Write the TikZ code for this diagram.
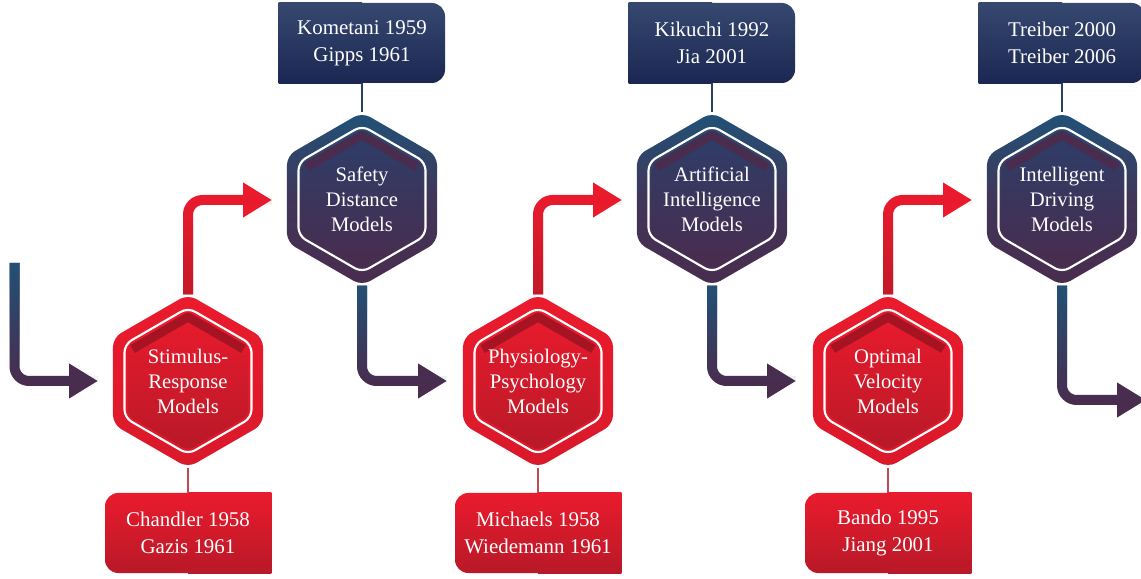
\documentclass[tikz,border=0pt]{standalone}
\usepackage{fontspec}
\setmainfont{Liberation Serif}
\usetikzlibrary{shapes.geometric,arrows.meta,fadings,backgrounds}

\definecolor{ringred}{RGB}{234,27,45}
\definecolor{corered}{RGB}{184,25,40}
\definecolor{bandred}{RGB}{166,20,36}
\definecolor{ringblue}{RGB}{33,82,120}
\definecolor{ringplum}{RGB}{74,44,78}
\definecolor{coreblue}{RGB}{44,62,106}
\definecolor{boxslate}{RGB}{54,72,112}
\definecolor{boxnavy}{RGB}{27,39,82}
\definecolor{linkred}{RGB}{196,72,82}
\definecolor{linknavy}{RGB}{44,64,100}

\begin{document}
\begin{tikzpicture}[x=0.75pt,y=0.75pt,
    hex/.style={regular polygon,regular polygon sides=6,shape border rotate=30,inner sep=0pt,outer sep=0pt},
    redhex/.style={hex,minimum size=130pt,rounded corners=7pt,top color=ringred,bottom color=ringred!93!black},
    redcore/.style={hex,minimum size=104pt,rounded corners=5pt,top color=ringred,bottom color=corered},
    redband/.style={draw=bandred,line width=6.75pt,line join=round},
    darkhex/.style={hex,minimum size=130pt,rounded corners=7pt,top color=ringblue,bottom color=ringplum,middle color=ringplum!75!ringblue},
    darkcore/.style={hex,minimum size=104pt,rounded corners=5pt,top color=coreblue,bottom color=ringplum},
    darkband/.style={draw=ringplum,line width=6.75pt,line join=round},
    hexline/.style={hex,minimum size=110pt,rounded corners=6pt,draw=white,line width=1.6pt},
    hextext/.style={text=white,align=center,inner sep=0pt,font=\fontsize{15.5}{18.75}\selectfont},
    refbox/.style={rectangle,minimum width=124.5pt,minimum height=60pt,rounded corners=10pt,text=white,align=center,font=\fontsize{15.7}{20.25}\selectfont},
    redref/.style={refbox,top color=ringred,bottom color=corered},
    darkref/.style={refbox,top color=boxslate,bottom color=boxnavy},
    link/.style={line width=1.1pt},
    flow/.style={line width=7.5pt,rounded corners=11pt,-{Triangle[length=21.75pt,width=24.75pt]}},
    flowfade/.style={line width=7.5pt,rounded corners=11pt,draw=ringblue,path fading=south},
    redfade/.style={line width=7.5pt,rounded corners=11pt,draw=corered!80!ringred,path fading=north}]
    \useasboundingbox (0,0) rectangle (1141,578);

    % free ends of the arrows
    \coordinate (In) at (14.5,315);
    \coordinate (In2SR) at (98,197);
    \coordinate (SR2SD) at (272,378);
    \coordinate (SD2PP) at (447,197);
    \coordinate (PP2AI) at (622,378);
    \coordinate (AI2OV) at (796,197);
    \coordinate (OV2ID) at (972,378);
    \coordinate (IDout) at (1146,178);

    % bottom row
    \node[redhex] (SR) at (188,197) {};
    \node[redcore] (SRc) at (SR) {};
    \draw[redband,shift={(SR)}] (150:64) -- (90:64) -- (30:64);
    \node[hexline] (SRl) at (SR) {};
    \node[hextext] (SRt) at (SR) {Stimulus-\\Response\\Models};

    \node[redhex] (PP) at (538,197) {};
    \node[redcore] (PPc) at (PP) {};
    \draw[redband,shift={(PP)}] (150:64) -- (90:64) -- (30:64);
    \node[hexline] (PPl) at (PP) {};
    \node[hextext] (PPt) at (PP) {Physiology-\\Psychology\\Models};

    \node[redhex] (OV) at (888,197) {};
    \node[redcore] (OVc) at (OV) {};
    \draw[redband,shift={(OV)}] (150:64) -- (90:64) -- (30:64);
    \node[hexline] (OVl) at (OV) {};
    \node[hextext] (OVt) at (OV) {Optimal\\Velocity\\Models};

    % top row
    \node[darkhex] (SD) at (362,379) {};
    \node[darkcore] (SDc) at (SD) {};
    \draw[darkband,shift={(SD)}] (150:64) -- (90:64) -- (30:64);
    \node[hexline] (SDl) at (SD) {};
    \node[hextext] (SDt) at (SD) {Safety\\Distance\\Models};

    \node[darkhex] (AI) at (712,379) {};
    \node[darkcore] (AIc) at (AI) {};
    \draw[darkband,shift={(AI)}] (150:64) -- (90:64) -- (30:64);
    \node[hexline] (AIl) at (AI) {};
    \node[hextext] (AIt) at (AI) {Artificial\\Intelligence\\Models};

    \node[darkhex] (ID) at (1062,379) {};
    \node[darkcore] (IDc) at (ID) {};
    \draw[darkband,shift={(ID)}] (150:64) -- (90:64) -- (30:64);
    \node[hexline] (IDl) at (ID) {};
    \node[hextext] (IDt) at (ID) {Intelligent\\Driving\\Models};

    % references
    \node[redref] (SRref) at (188,45) {Chandler 1958\\Gazis 1961};
    \node[redref] (PPref) at (538,45) {Michaels 1958\\Wiedemann 1961};
    \node[redref] (OVref) at (888,45) {Bando 1995\\Jiang 2001};
    \node[darkref] (SDref) at (362,535) {Kometani 1959\\Gipps 1961};
    \node[darkref] (AIref) at (712,535) {Kikuchi 1992\\Jia 2001};
    \node[darkref] (IDref) at (1062,535) {Treiber 2000\\Treiber 2006};

    \begin{scope}[on background layer]
        % square sides of the reference boxes
        \fill[top color=ringred,bottom color=corered] (SRref.north) rectangle (SRref.south east);
        \fill[top color=ringred,bottom color=corered] (PPref.north) rectangle (PPref.south east);
        \fill[top color=ringred,bottom color=corered] (OVref.north) rectangle (OVref.south east);
        \fill[top color=boxslate,bottom color=boxnavy] (SDref.north west) rectangle (SDref.south);
        \fill[top color=boxslate,bottom color=boxnavy] (AIref.north west) rectangle (AIref.south);
        \fill[top color=boxslate,bottom color=boxnavy] (IDref.north west) rectangle (IDref.south);

        \draw[link,linkred] (SRref.north) -- (SR);
        \draw[link,linkred] (PPref.north) -- (PP);
        \draw[link,linkred] (OVref.north) -- (OV);
        \draw[link,linknavy] (SDref.south) -- (SD);
        \draw[link,linknavy] (AIref.south) -- (AI);
        \draw[link,linknavy] (IDref.south) -- (ID);

        \draw[flow,ringred] (SR) |- (SR2SD);
        \draw[redfade] (SR.north) |- (SR2SD);
        \draw[flow,ringred] (PP) |- (PP2AI);
        \draw[redfade] (PP.north) |- (PP2AI);
        \draw[flow,ringred] (OV) |- (OV2ID);
        \draw[redfade] (OV.north) |- (OV2ID);

        \draw[flow,ringplum] (In) |- (In2SR);
        \draw[flowfade] (In) |- (In2SR);
        \draw[flow,ringplum] (SD.south) |- (SD2PP);
        \draw[flowfade] (SD.south) |- (SD2PP);
        \draw[flow,ringplum] (AI.south) |- (AI2OV);
        \draw[flowfade] (AI.south) |- (AI2OV);
        \draw[flow,ringplum] (ID.south) |- (IDout);
        \draw[flowfade] (ID.south) |- (IDout);
    \end{scope}
\end{tikzpicture}
\end{document}
